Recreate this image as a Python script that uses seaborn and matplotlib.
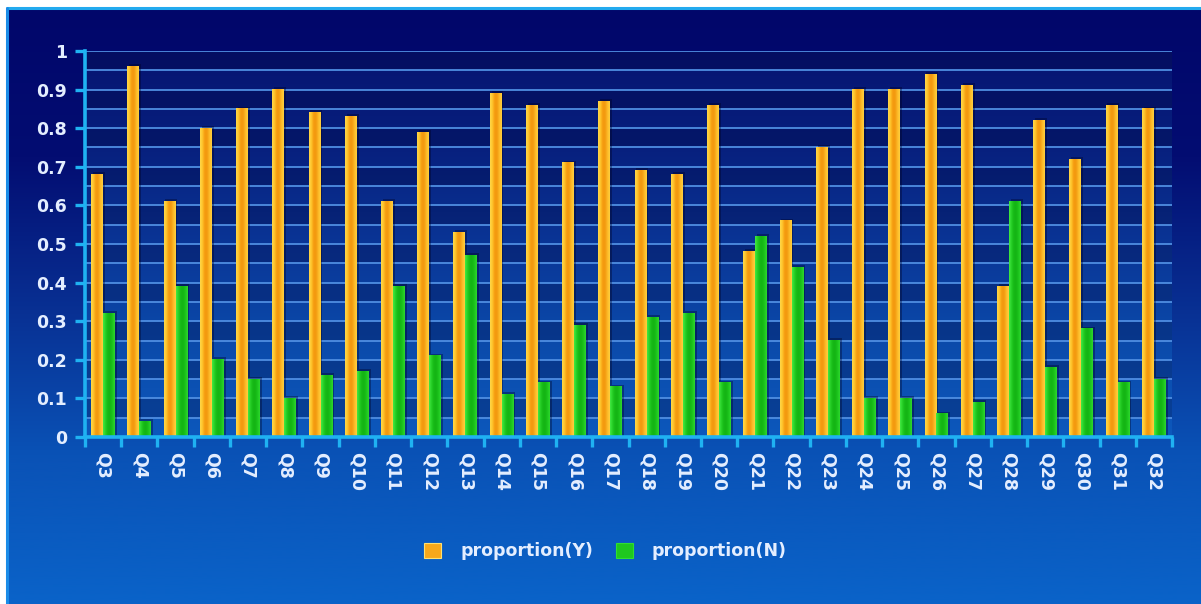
import numpy as np
import pandas as pd
import seaborn as sns
import matplotlib
matplotlib.use("Agg")
import matplotlib.pyplot as plt
from matplotlib.colors import LinearSegmentedColormap
from matplotlib.patches import Rectangle
from matplotlib.lines import Line2D
from matplotlib.ticker import MultipleLocator, FuncFormatter, FixedLocator

# ---- data -------------------------------------------------------------
questions = ["Q3", "Q4", "Q5", "Q6", "Q7", "Q8", "Q9", "Q10", "Q11", "Q12",
             "Q13", "Q14", "Q15", "Q16", "Q17", "Q18", "Q19", "Q20", "Q21", "Q22",
             "Q23", "Q24", "Q25", "Q26", "Q27", "Q28", "Q29", "Q30", "Q31", "Q32"]
proportion_y = [0.68, 0.96, 0.61, 0.80, 0.85, 0.90, 0.84, 0.83, 0.61, 0.79,
                0.53, 0.89, 0.86, 0.71, 0.87, 0.69, 0.68, 0.86, 0.48, 0.56,
                0.75, 0.90, 0.90, 0.94, 0.91, 0.39, 0.82, 0.72, 0.86, 0.85]
proportion_n = [0.32, 0.04, 0.39, 0.20, 0.15, 0.10, 0.16, 0.17, 0.39, 0.21,
                0.47, 0.11, 0.14, 0.29, 0.13, 0.31, 0.32, 0.14, 0.52, 0.44,
                0.25, 0.10, 0.10, 0.06, 0.09, 0.61, 0.18, 0.28, 0.14, 0.15]
series_names = ["proportion(Y)", "proportion(N)"]

df = pd.DataFrame({
    "question": questions * 2,
    "value": proportion_y + proportion_n,
    "series": [series_names[0]] * len(questions) + [series_names[1]] * len(questions),
})

# ---- style ------------------------------------------------------------
sns.set_theme(style="white")
plt.rcParams["font.family"] = ["DejaVu Sans"]
plt.rcParams["font.weight"] = "bold"

TEXT = "#e4eeff"
AXIS = "#1fb2f2"
GRID = "#4f8ee2"
YELLOW = "#f7a81b"
GREEN = "#1fc81f"

W, H = 1201, 604
fig = plt.figure(figsize=(W / 100, H / 100), dpi=100, facecolor="white")

# page background: vertical gradient from navy to bright blue
bg_cmap = LinearSegmentedColormap.from_list(
    "bg", ["#0a63c9", "#0a52b6", "#082f92", "#030d72", "#01066a"])
x0 = 7 / W
y1 = (H - 8) / H
bg = fig.add_axes([x0, 0, 1 - x0, y1], zorder=-10)
bg.imshow(np.linspace(0, 1, 256)[:, None], cmap=bg_cmap, aspect="auto",
          extent=[0, 1, 0, 1], origin="lower", interpolation="bicubic")
bg.set_axis_off()
fig.add_artist(Line2D([x0, 1], [y1, y1], transform=fig.transFigure,
                      color="#22aaee", lw=2.2))
fig.add_artist(Line2D([x0, x0], [0, y1], transform=fig.transFigure,
                      color="#1a8ce8", lw=2.2))

# ---- plot area ---------------------------------------------------------
ax = fig.add_axes([85 / W, 167 / H, (1172 - 85) / W, (437 - 51) / H])
ax.patch.set_alpha(0)

n = len(questions)
plot_cmap = LinearSegmentedColormap.from_list(
    "plot", ["#0d58bc", "#0b4aaa", "#0a3596", "#07207e", "#061472"])
ax.imshow(np.linspace(0, 1, 256)[:, None], cmap=plot_cmap, aspect="auto",
          extent=[-0.5, n - 0.5, 0, 1], origin="lower", interpolation="bicubic",
          zorder=0)
# alternating darker bands every 0.05
for k in range(10):
    lo = 0.05 + 0.1 * k
    ax.axhspan(lo, lo + 0.05, color="#000030", alpha=0.25, lw=0, zorder=0.5)
for g in np.arange(0.05, 1.001, 0.05):
    ax.axhline(g, color=GRID, lw=1.3, zorder=1)

sns.barplot(data=df, x="question", y="value", hue="series",
            palette=[YELLOW, GREEN], width=0.66, ax=ax, legend=False,
            saturation=1, zorder=3)

# shaded, cylindrical look for each bar
grad_y = LinearSegmentedColormap.from_list(
    "gy", ["#ffd84a", "#ffc52c", "#f59a0e", "#f39a10", "#fdbb28", "#ffd040"])
grad_n = LinearSegmentedColormap.from_list(
    "gn", ["#44ea44", "#26d026", "#16b816", "#14b414", "#1cc41c", "#30d830"])
for container, cmap in zip(ax.containers, [grad_y, grad_n]):
    for p in container:
        x, w, h = p.get_x(), p.get_width(), p.get_height()
        ax.add_patch(Rectangle((x + w * 0.15, 0), w, h + 0.006,
                               color="#000020", alpha=0.35, lw=0, zorder=2))
        ax.imshow(np.linspace(0, 1, 64)[None, :], cmap=cmap, aspect="auto",
                  extent=[x, x + w, 0, h], interpolation="bicubic", zorder=3)
        p.set_visible(False)

ax.set_xlim(-0.5, n - 0.5)
ax.set_ylim(0, 1)
ax.set_xlabel("")
ax.set_ylabel("")

for side in ["top", "right"]:
    ax.spines[side].set_visible(False)
for side in ["left", "bottom"]:
    ax.spines[side].set_color(AXIS)
    ax.spines[side].set_linewidth(2.6)
    ax.spines[side].set_zorder(5)

ax.yaxis.set_major_locator(MultipleLocator(0.1))
ax.yaxis.set_major_formatter(FuncFormatter(lambda v, _: f"{v:g}"))
ax.tick_params(axis="y", which="major", length=7, width=2.4, color=AXIS,
               labelcolor=TEXT, labelsize=12.5, pad=6, left=True)
ax.xaxis.set_minor_locator(FixedLocator(np.arange(-0.5, n, 1.0)))
ax.tick_params(axis="x", which="minor", length=7, width=2.4, color=AXIS,
               bottom=True)
ax.tick_params(axis="x", which="major", length=0, labelcolor=TEXT,
               labelsize=12.5, pad=11, labelrotation=-90)
for lbl in ax.get_xticklabels() + ax.get_yticklabels():
    lbl.set_fontweight("bold")

# legend
handles = [Rectangle((0, 0), 1, 1, facecolor=c, edgecolor="#ffe070" if i == 0 else "#30e030", lw=0.8)
           for i, c in enumerate([YELLOW, GREEN])]
leg = fig.legend(handles, series_names, loc="center", bbox_to_anchor=(0.504, 0.087),
                 ncol=2, frameon=False, handlelength=1.0, handleheight=1.0,
                 handletextpad=1.1, columnspacing=1.3,
                 prop={"weight": "bold", "size": 12.5})
for t in leg.get_texts():
    t.set_color(TEXT)

fig.savefig("out.png", dpi=100, facecolor="white")
